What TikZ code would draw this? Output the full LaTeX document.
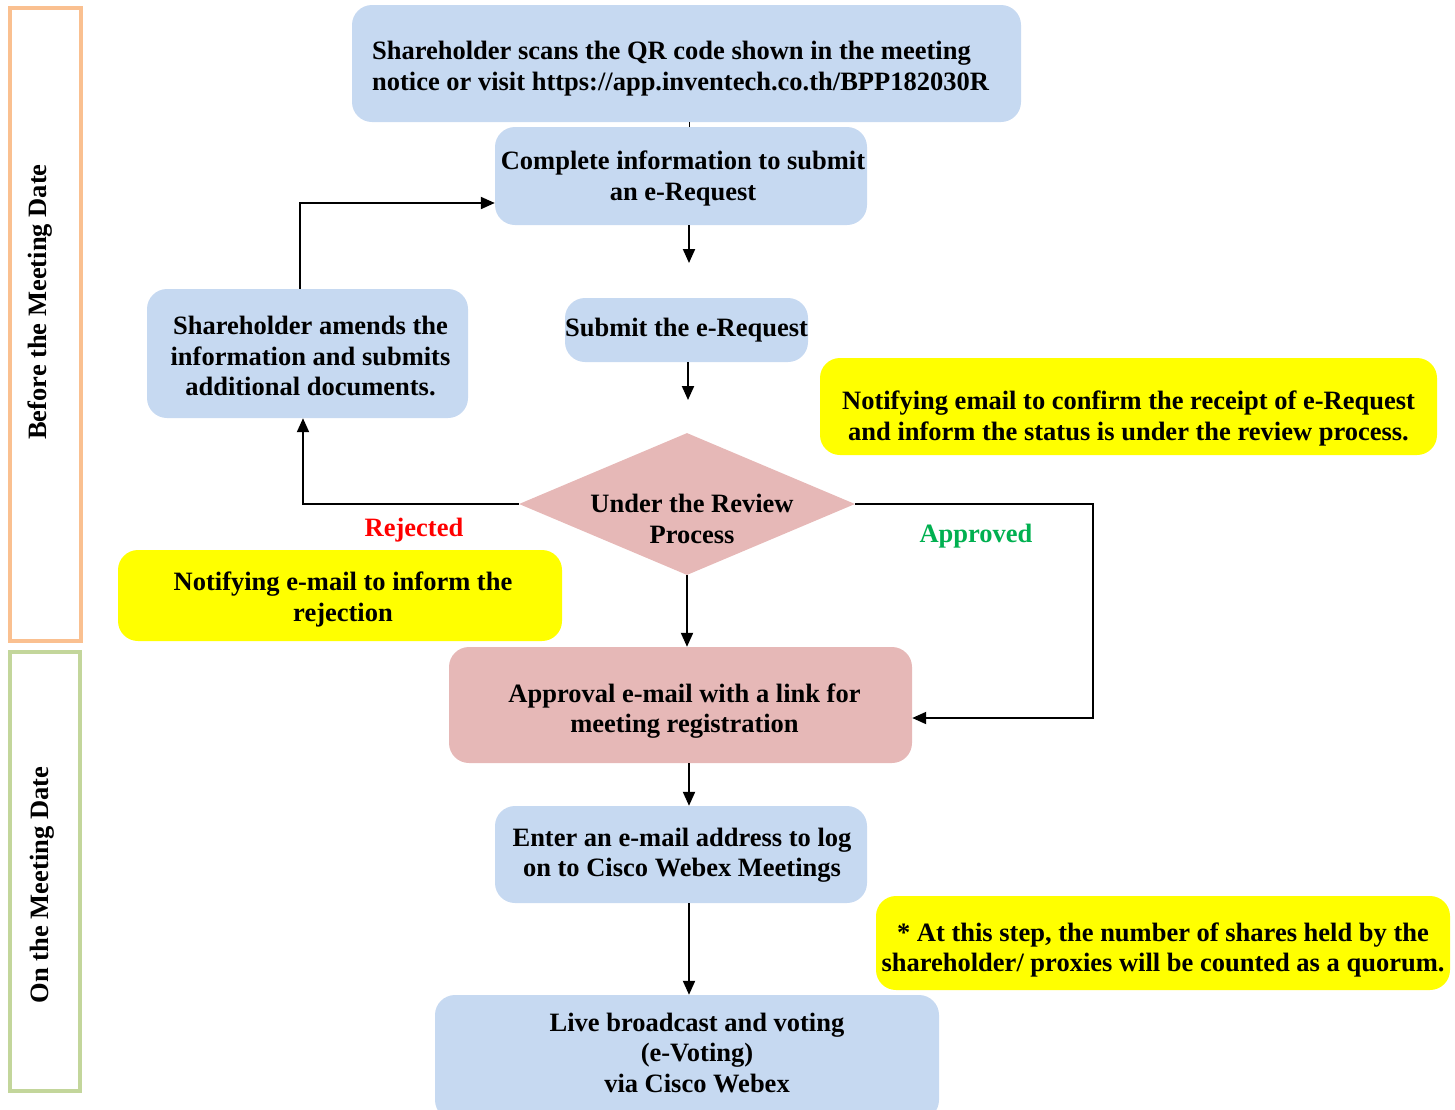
\documentclass[tikz,border=0pt]{standalone}
\usepackage{fontspec}
\setmainfont{Liberation Serif}
\usetikzlibrary{arrows.meta,shapes.geometric}
\definecolor{boxblue}{HTML}{C6D9F1}
\definecolor{boxpink}{HTML}{E6B8B7}
\definecolor{noteyellow}{HTML}{FFFF00}
\definecolor{bandorange}{HTML}{FAC090}
\definecolor{bandgreen}{HTML}{C3D69B}
\definecolor{okgreen}{HTML}{00B050}
\begin{document}
\begin{tikzpicture}[x=1pt,y=-1pt,
  txt/.style={inner sep=0pt, align=center, font=\fontsize{26.5}{30.5}\selectfont\bfseries},
  shapebox/.style={rounded corners=20pt, inner sep=0pt},
  bluebox/.style={shapebox, fill=boxblue},
  pinkbox/.style={shapebox, fill=boxpink},
  notebox/.style={shapebox, fill=noteyellow},
  band/.style={draw, line width=4pt, inner sep=0pt},
  conn/.style={line width=2pt, -{Triangle[length=14pt,width=12pt]}}
]
\useasboundingbox (0,0) rectangle (1455,1109);
\clip (0,0) rectangle (1455,1109);

% side bands
\node[band, draw=bandorange, minimum width=71pt, minimum height=633pt] (before) at (45.5,324.5) {};
\node[txt, rotate=90] (beforet) at (40,302) {Before the Meeting Date};
\node[band, draw=bandgreen, minimum width=70pt, minimum height=439pt] (onday) at (45,871.5) {};
\node[txt, rotate=90] (ondayt) at (42,885) {On the Meeting Date};

% boxes
\node[bluebox, minimum width=669pt, minimum height=117pt,
  label={[txt, align=left, xshift=-6pt, yshift=-5pt]center:{Shareholder scans the QR code shown in the meeting\\notice or visit https://app.inventech.co.th/BPP182030R}}] (top) at (686.5,63.5) {};
\node[bluebox, minimum width=372pt, minimum height=98pt,
  label={[txt, xshift=2pt, yshift=-2.5pt]center:{Complete information to submit\\an e-Request}}] (comp) at (681,176) {};
\node[bluebox, minimum width=243pt, minimum height=64pt,
  label={[txt, yshift=0pt]center:{Submit the e-Request}}] (sub) at (686.5,330) {};
\node[bluebox, minimum width=321pt, minimum height=129pt,
  label={[txt, xshift=3pt, yshift=-2.5pt]center:{Shareholder amends the\\information and submits\\additional documents.}}] (amend) at (307.5,353.5) {};
\node[diamond, fill=boxpink, inner sep=0pt, minimum width=336pt, minimum height=142pt,
  label={[txt, xshift=5pt, yshift=-15pt]center:{Under the Review\\Process}}] (dia) at (687,504) {};
\node[pinkbox, minimum width=463pt, minimum height=116pt,
  label={[txt, xshift=4pt, yshift=-6pt]center:{Approval e-mail with a link for\\meeting registration}}] (appr) at (680.5,705) {};
\node[bluebox, minimum width=372pt, minimum height=97pt,
  label={[txt, xshift=1pt, yshift=-0.5pt]center:{Enter an e-mail address to log\\on to Cisco Webex Meetings}}] (enter) at (681,854.5) {};
\node[bluebox, minimum width=504pt, minimum height=125pt,
  label={[txt, xshift=10pt, yshift=5pt]center:{Live broadcast and voting\\(e-Voting)\\via Cisco Webex}}] (live) at (687,1057.5) {};

% notes
\node[notebox, minimum width=617pt, minimum height=97pt,
  label={[txt, yshift=-12pt]center:{Notifying email to confirm the receipt of e-Request\\and inform the status is under the review process.}}] (note1) at (1128.5,406.5) {};
\node[notebox, minimum width=444pt, minimum height=91pt,
  label={[txt, xshift=3pt, yshift=-4pt]center:{Notifying e-mail to inform the\\rejection}}] (note2) at (340,595.5) {};
\node[notebox, minimum width=574pt, minimum height=94pt,
  label={[txt, yshift=-7pt]center:{* At this step, the number of shares held by the\\shareholder/ proxies will be counted as a quorum.}}] (note3) at (1163,943) {};

% branch labels
\node[txt, text=red] (rejl) at (414,530) {Rejected};
\node[txt, text=okgreen] (appl) at (976,536) {Approved};

% helper coordinates
\coordinate (a1) at (689,263);
\coordinate (a2) at (688,400);
\coordinate (ap) at (1093,718);
\coordinate (rj) at (303,504);
\coordinate (am) at (300,203);
\coordinate (cx) at (689,0);

% connectors
\draw[line width=1pt] (top.south -| cx) -- (comp.north -| cx);
\draw[conn] (comp.south -| a1) -- (a1);
\draw[conn] (sub.south -| a2) -- (a2);
\draw[conn] (dia.south) -- (dia.south |- appr.north);
\draw[conn] (dia.east) -| (ap) -- (appr.east |- ap);
\draw[conn] (dia.west) -- (rj) -- (rj |- amend.south);
\draw[conn] (amend.north -| am) -- (am) -- (comp.west |- am);
\draw[conn] (appr.south -| cx) -- (enter.north -| cx);
\draw[conn] (enter.south -| cx) -- (live.north -| cx);
\end{tikzpicture}
\end{document}
